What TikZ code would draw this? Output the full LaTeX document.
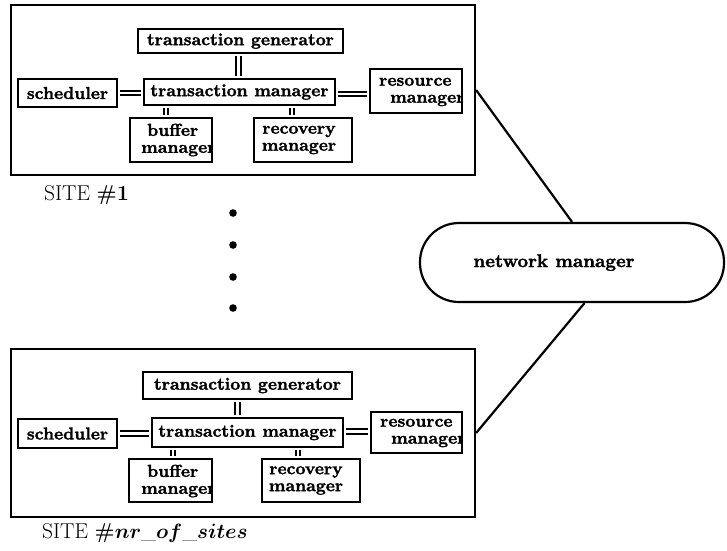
\documentclass[tikz,border=0pt]{standalone}
\usepackage{fontspec}
\newfontfamily\heavy{lmroman10-bold}[Extension=.otf, FakeBold=1.6]
\begin{document}
\begin{tikzpicture}[x=1pt,y=-1pt,
  box/.style={draw, line width=2.8pt, inner sep=0pt},
  site/.style={draw, line width=2.2pt, inner sep=0pt},
  dbl/.style={double, double distance=2.6pt, line width=2pt, shorten <=1.4pt, shorten >=1.4pt},
  lbl/.style={font=\fontsize{17.3}{17}\selectfont\heavy, inner sep=0pt, align=center},
  lbll/.style={font=\fontsize{17.3}{17}\selectfont\heavy, inner sep=0pt, align=left, anchor=west},
  link/.style={line width=2.2pt},
  sitelab/.style={font=\fontsize{21.5}{21.5}\selectfont, inner sep=0pt, anchor=west}]
\useasboundingbox (0,0) rectangle (727,550);

% ---------------- SITE 1 ----------------
\node[site, minimum width=464pt, minimum height=170pt] (site1) at (243,90) {};
\node[box, lbl, minimum width=205pt, minimum height=24pt] (tg1) at (240.5,41) {transaction generator};
\node[box, lbl, minimum width=99pt, minimum height=28pt] (sch1) at (67.5,93) {scheduler};
\node[box, lbl, minimum width=191pt, minimum height=26pt] (tm1) at (239.5,92) {transaction manager};
\node[box, minimum width=92pt, minimum height=44pt] (rm1) at (416,91) {};
\begin{scope}
  \clip ([xshift=1.4pt,yshift=1.4pt]rm1.south west) rectangle ([xshift=-1.4pt,yshift=-1.4pt]rm1.north east);
  \node[lbll] (rm1t) at (379,92) {resource\\\hspace*{11pt}manager};
\end{scope}
\node[box, minimum width=82pt, minimum height=44pt] (bm1) at (171,140) {};
\begin{scope}
  \clip ([xshift=1.4pt,yshift=1.4pt]bm1.south west) rectangle ([xshift=-1.4pt,yshift=-1.4pt]bm1.north east);
  \node[lbll] (bm1t) at (138,140) {\hspace*{9pt}buffer\\\hspace*{3pt}manager};
\end{scope}
\node[box, minimum width=98pt, minimum height=44pt] (rcm1) at (303,140) {};
\node[lbl] (rcm1t) at ([xshift=-4pt]rcm1.center) {recovery\\manager};

\draw[dbl] ([xshift=-2pt]tg1.south) -- ([xshift=-2pt]tg1.south |- tm1.north);
\draw[dbl] (sch1.east) -- (sch1.east -| tm1.west);
\draw[dbl] ([yshift=-2pt]tm1.east) -- ([yshift=-2pt]tm1.east -| rm1.west);
\draw[dbl] ([xshift=-5pt]bm1.north) -- ([xshift=-5pt]bm1.north |- tm1.south);
\draw[dbl] ([xshift=-11pt]rcm1.north) -- ([xshift=-11pt]rcm1.north |- tm1.south);

\node[sitelab] (s1lab) at (44,195) {SITE \textbf{\#1}};

% ---------------- dots ----------------
\fill (233,213) circle (3.8pt);
\fill (233,245) circle (3.8pt);
\fill (233,277) circle (3.8pt);
\fill (233,308) circle (3.8pt);

% ---------------- SITE n ----------------
\node[site, minimum width=464pt, minimum height=168pt] (siten) at (243,433) {};
\node[box, lbl, minimum width=209pt, minimum height=27pt] (tgn) at (247.5,385.5) {transaction generator};
\node[box, lbl, minimum width=99pt, minimum height=29pt] (schn) at (67.5,433.5) {scheduler};
\node[box, lbl, minimum width=191pt, minimum height=29pt] (tmn) at (247.5,432.5) {transaction manager};
\node[box, minimum width=91pt, minimum height=41pt] (rmn) at (416.5,432.5) {};
\begin{scope}
  \clip ([xshift=1.4pt,yshift=1.4pt]rmn.south west) rectangle ([xshift=-1.4pt,yshift=-1.4pt]rmn.north east);
  \node[lbll] (rmnt) at (380,433) {resource\\\hspace*{11pt}manager};
\end{scope}
\node[box, minimum width=83pt, minimum height=43pt] (bmn) at (170.5,480.5) {};
\begin{scope}
  \clip ([xshift=1.4pt,yshift=1.4pt]bmn.south west) rectangle ([xshift=-1.4pt,yshift=-1.4pt]bmn.north east);
  \node[lbll] (bmnt) at (138,481) {\hspace*{9pt}buffer\\\hspace*{3pt}manager};
\end{scope}
\node[box, minimum width=98pt, minimum height=43pt] (rcmn) at (311,480.5) {};
\node[lbl] (rcmnt) at ([xshift=-5pt]rcmn.center) {recovery\\manager};

\draw[dbl] ([xshift=-10pt]tgn.south) -- ([xshift=-10pt]tgn.south |- tmn.north);
\draw[dbl] (schn.east) -- (schn.east -| tmn.west);
\draw[dbl] ([yshift=1pt]tmn.east) -- ([yshift=1pt]tmn.east -| rmn.west);
\draw[dbl] ([xshift=2.5pt]bmn.north) -- ([xshift=2.5pt]bmn.north |- tmn.south);
\draw[dbl] ([xshift=-13pt]rcmn.north) -- ([xshift=-13pt]rcmn.north |- tmn.south);

\node[sitelab] (snlab) at (42,533) {SITE \textbf{\#}{\boldmath$nr\_of\_sites$}};

% ---------------- network manager ----------------
\node[draw, line width=2.2pt, rounded corners=39pt, minimum width=304pt, minimum height=79pt] (nm) at (572,262.5) {};
\node[font=\fontsize{18.5}{18.5}\selectfont\heavy, inner sep=0pt] (nmt) at ([xshift=-18pt]nm.center) {network manager};
\draw[link] (site1.east) -- (nm.north);
\draw[link] ([xshift=12.5pt]nm.south) -- (siten.east);
\end{tikzpicture}
\end{document}
